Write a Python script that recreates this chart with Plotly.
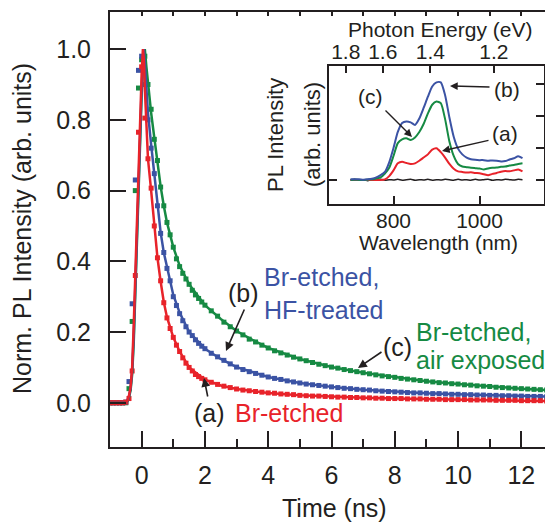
import plotly.graph_objects as go

# ---------------- main panel data (time-resolved PL) ----------------
t_data = [-1.0, -0.9, -0.8, -0.7, -0.6, -0.5, -0.4, -0.3, -0.2, -0.1,
          0.0, 0.1, 0.2, 0.3, 0.4, 0.5, 0.6, 0.7, 0.8, 0.9,
          1.0, 1.1, 1.2, 1.3, 1.4, 1.5, 1.6, 1.7, 1.8, 1.9, 2.0,
          2.2, 2.4, 2.6, 2.8, 3.0, 3.2, 3.4, 3.6, 3.8, 4.0,
          4.2, 4.4, 4.6, 4.8, 5.0, 5.2, 5.4, 5.6, 5.8, 6.0,
          6.2, 6.4, 6.6, 6.8, 7.0, 7.2, 7.4, 7.6, 7.8, 8.0,
          8.2, 8.4, 8.6, 8.8, 9.0, 9.2, 9.4, 9.6, 9.8, 10.0,
          10.2, 10.4, 10.6, 10.8, 11.0, 11.2, 11.4, 11.6, 11.8, 12.0,
          12.2, 12.4, 12.6, 12.8, 13.0]

red_data = [0.0, 0.0, 0.0, 0.0, 0.0, 0.002, 0.012, 0.09, 0.36, 0.765,
            0.95, 0.805, 0.69, 0.607, 0.50, 0.41, 0.345, 0.283, 0.24, 0.21,
            0.185, 0.163, 0.145, 0.127, 0.112, 0.10, 0.09, 0.08, 0.074, 0.069, 0.065,
            0.058, 0.052, 0.047, 0.043, 0.039, 0.036, 0.034, 0.032, 0.030, 0.028,
            0.027, 0.025, 0.024, 0.023, 0.021, 0.020, 0.019, 0.019, 0.018, 0.017,
            0.016, 0.016, 0.015, 0.015, 0.014, 0.014, 0.013, 0.013, 0.012, 0.012,
            0.012, 0.011, 0.011, 0.011, 0.010, 0.010, 0.010, 0.009, 0.009, 0.009,
            0.009, 0.008, 0.008, 0.008, 0.008, 0.007, 0.007, 0.007, 0.007, 0.006,
            0.006, 0.006, 0.006, 0.005, 0.005]

blue_data = [0.0, 0.0, 0.0, 0.0, 0.0, 0.002, 0.06, 0.28, 0.63, 0.94,
             0.98, 0.90, 0.80, 0.72, 0.648, 0.557, 0.479, 0.425, 0.38, 0.345,
             0.30, 0.275, 0.252, 0.232, 0.215, 0.20, 0.19, 0.178, 0.168, 0.16, 0.153,
             0.14, 0.13, 0.12, 0.11, 0.101, 0.094, 0.088, 0.083, 0.078, 0.073,
             0.069, 0.066, 0.062, 0.059, 0.056, 0.053, 0.051, 0.049, 0.047, 0.045,
             0.043, 0.041, 0.040, 0.038, 0.037, 0.036, 0.034, 0.033, 0.032, 0.031,
             0.030, 0.029, 0.028, 0.028, 0.027, 0.026, 0.026, 0.025, 0.024, 0.024,
             0.023, 0.023, 0.022, 0.022, 0.021, 0.021, 0.020, 0.020, 0.019, 0.019,
             0.018, 0.018, 0.018, 0.017, 0.017]

green_data = [0.0, 0.0, 0.0, 0.0, 0.0, 0.0, 0.04, 0.23, 0.60, 0.89,
              0.97, 0.98, 0.90, 0.83, 0.745, 0.685, 0.61, 0.557, 0.51, 0.475,
              0.44, 0.407, 0.385, 0.366, 0.35, 0.335, 0.318, 0.305, 0.295, 0.285, 0.276,
              0.26, 0.245, 0.228, 0.215, 0.203, 0.192, 0.18, 0.172, 0.163, 0.155,
              0.147, 0.141, 0.135, 0.129, 0.124, 0.119, 0.114, 0.109, 0.105, 0.101,
              0.098, 0.094, 0.091, 0.088, 0.085, 0.082, 0.079, 0.076, 0.074, 0.072,
              0.069, 0.067, 0.065, 0.063, 0.061, 0.059, 0.057, 0.056, 0.054, 0.053,
              0.051, 0.050, 0.048, 0.047, 0.046, 0.044, 0.043, 0.042, 0.041, 0.040,
              0.039, 0.038, 0.037, 0.036, 0.035]

t_fit = [-1.0, -0.6, -0.5, -0.45, -0.4, -0.35, -0.3, -0.25, -0.2, -0.15,
         -0.1, -0.05, 0.0, 0.04, 0.07, 0.1, 0.15, 0.2, 0.3, 0.4,
         0.5, 0.6, 0.7, 0.8, 1.0, 1.2, 1.5, 2.0, 2.5, 3.0,
         3.5, 4.0, 5.0, 6.0, 7.0, 8.0, 9.0, 10.0, 11.0, 12.0, 13.0]

red_fit = [0.0, 0.0, 0.0, 0.006, 0.02, 0.045, 0.10, 0.22, 0.37, 0.53,
           0.68, 0.82, 0.93, 1.0, 0.97, 0.89, 0.78, 0.69, 0.60, 0.50,
           0.41, 0.343, 0.285, 0.242, 0.185, 0.145, 0.10, 0.065, 0.049, 0.039,
           0.033, 0.028, 0.021, 0.017, 0.014, 0.012, 0.010, 0.009, 0.008, 0.006, 0.005]

blue_fit = [0.0, 0.0, 0.0, 0.005, 0.018, 0.04, 0.09, 0.19, 0.33, 0.49,
            0.64, 0.78, 0.89, 0.96, 1.0, 0.96, 0.88, 0.82, 0.73, 0.645,
            0.56, 0.482, 0.425, 0.382, 0.305, 0.255, 0.20, 0.153, 0.124, 0.101,
            0.086, 0.073, 0.056, 0.045, 0.037, 0.031, 0.027, 0.024, 0.021, 0.019, 0.017]

green_fit = [0.0, 0.0, 0.0, 0.004, 0.015, 0.035, 0.08, 0.17, 0.31, 0.47,
             0.62, 0.76, 0.87, 0.94, 0.98, 1.0, 0.95, 0.90, 0.82, 0.75,
             0.68, 0.612, 0.557, 0.51, 0.44, 0.388, 0.335, 0.276, 0.237, 0.203,
             0.178, 0.155, 0.124, 0.101, 0.085, 0.072, 0.061, 0.053, 0.046, 0.040, 0.035]

x_ticks = [0, 2, 4, 6, 8, 10, 12]
y_ticks = [0.0, 0.2, 0.4, 0.6, 0.8, 1.0]
y_ticklabels = ["0.0", "0.2", "0.4", "0.6", "0.8", "1.0"]

# ---------------- inset data (PL spectra) ----------------
wl = [700, 710, 720, 730, 740, 750, 760, 770, 780, 790,
      800, 810, 820, 830, 840, 850, 860, 870, 880, 890,
      900, 910, 920, 930, 940, 950, 960, 970, 980, 990,
      1000, 1010, 1020, 1030, 1040, 1050, 1060, 1070, 1080, 1090, 1100]

spec_b = [0.02, 0.02, 0.02, 0.01, 0.02, 0.04, 0.08, 0.15, 0.25, 0.55,
          1.0, 1.5, 1.78, 1.83, 1.8, 1.72, 1.92, 2.25, 2.6, 2.92,
          3.05, 3.05, 2.65, 1.95, 1.35, 0.98, 0.80, 0.70, 0.65, 0.63,
          0.62, 0.62, 0.60, 0.61, 0.60, 0.58, 0.59, 0.64, 0.68, 0.74, 0.68]

spec_c = [0.0, 0.01, 0.0, 0.0, 0.01, 0.02, 0.05, 0.08, 0.20, 0.38,
          0.75, 1.15, 1.27, 1.30, 1.25, 1.33, 1.50, 1.75, 2.08, 2.35,
          2.45, 2.40, 1.90, 1.20, 0.75, 0.50, 0.42, 0.40, 0.38, 0.37,
          0.36, 0.33, 0.36, 0.38, 0.39, 0.41, 0.42, 0.45, 0.47, 0.50, 0.52]

spec_a = [0.0, 0.0, 0.0, 0.0, 0.0, 0.0, 0.0, 0.0, 0.02, 0.12,
          0.30, 0.52, 0.57, 0.53, 0.50, 0.52, 0.60, 0.70, 0.80, 0.95,
          0.99, 0.87, 0.70, 0.50, 0.35, 0.27, 0.25, 0.23, 0.24, 0.22,
          0.21, 0.18, 0.15, 0.19, 0.22, 0.26, 0.28, 0.27, 0.30, 0.33, 0.27]

spec_bg = [0.0, 0.02, -0.01, 0.01, -0.02, 0.01, 0.0, 0.02, -0.01, 0.01,
           0.0, 0.02, -0.01, 0.01, 0.02, -0.01, 0.01, 0.0, 0.02, -0.01,
           0.01, 0.0, 0.02, 0.01, -0.01, 0.02, 0.0, 0.01, -0.01, 0.02,
           0.0, 0.01, 0.02, -0.01, 0.01, 0.0, 0.02, 0.01, 0.0, 0.02, 0.01]

ev_ticks = [1.8, 1.6, 1.4, 1.2]
ev_ticklabels = ["1.8", "1.6", "1.4", "1.2"]
wl_ticks = [800, 1000]

RED = "#E8232A"
BLUE = "#3B53A4"
GREEN = "#168A43"
INK = "#231F20"
FONT = "Liberation Sans, Arial, Helvetica, sans-serif"

# The page body has an 8 px margin; lay the figure out 8 px up/left so the
# visible window matches the reference pixel positions.
OFF = 8
W, H = 553, 524
REF_L, REF_R, REF_T, REF_B = 110, 553, 12, 447   # plot area in window pixels
L = REF_L - OFF
T = REF_T - OFF
R = W - (REF_R - OFF)
B = H - (REF_B - OFF)
PW = REF_R - REF_L
PH = REF_B - REF_T


def px(x):
    return (x - REF_L) / PW


def py(y):
    return (REF_B - y) / PH


fig = go.Figure()

series = [(green_data, green_fit, GREEN),
          (blue_data, blue_fit, BLUE),
          (red_data, red_fit, RED)]
for data, fit, col in series:
    fig.add_trace(go.Scatter(x=t_data, y=data, mode="markers",
                             marker=dict(symbol="square", size=5, color=col),
                             xaxis="x", yaxis="y", hoverinfo="skip"))
for data, fit, col in series:
    fig.add_trace(go.Scatter(x=t_fit, y=fit, mode="lines",
                             line=dict(color=col, width=2.5),
                             xaxis="x", yaxis="y", hoverinfo="skip"))

# invisible helper so the top axis is drawn
fig.add_trace(go.Scatter(x=[5], y=[0.5], mode="markers", marker=dict(opacity=0),
                         xaxis="x2", yaxis="y", hoverinfo="skip"))

# inset spectra
for spec, col, w in [(spec_bg, INK, 1.5), (spec_a, RED, 2), (spec_c, GREEN, 2), (spec_b, BLUE, 2)]:
    fig.add_trace(go.Scatter(x=wl, y=spec, mode="lines",
                             line=dict(color=col, width=w, shape="spline", smoothing=0.6),
                             xaxis="x3", yaxis="y3", hoverinfo="skip"))
fig.add_trace(go.Scatter(x=[900], y=[1], mode="markers", marker=dict(opacity=0),
                         xaxis="x4", yaxis="y3", hoverinfo="skip"))
fig.add_trace(go.Scatter(x=[900], y=[1], mode="markers", marker=dict(opacity=0),
                         xaxis="x3", yaxis="y4", hoverinfo="skip"))

ax_common = dict(showgrid=False, zeroline=False, showline=True, linecolor=INK,
                 linewidth=2, tickcolor=INK, ticks="inside", tickwidth=2)
ax_inset = {**ax_common, "linewidth": 1.5, "tickwidth": 1.5}

inset_dom_x = [px(329), px(544)]
inset_dom_y = [py(204), py(66)]

fig.update_layout(
    width=W, height=H,
    margin=dict(l=L, r=R, t=T, b=B, pad=0),
    paper_bgcolor="white", plot_bgcolor="white",
    showlegend=False,
    font=dict(family=FONT, color=INK, size=25),
    xaxis=dict(**ax_common, range=[-1, 13], tickvals=x_ticks, ticklen=16,
               tickfont=dict(size=25), ticklabelstandoff=5,
               minor=dict(ticks="inside", ticklen=8, dtick=1, tickcolor=INK, tickwidth=2),
               domain=[0, 1], anchor="y"),
    xaxis2=dict(**ax_common, range=[-1, 13], overlaying="x", side="top", dtick=1,
                ticklen=4, showticklabels=False, anchor="y"),
    yaxis=dict(**ax_common, range=[-0.125, 1.105], tickvals=y_ticks, ticktext=y_ticklabels,
               ticklen=16, tickfont=dict(size=25), ticklabelstandoff=12,
               domain=[0, 1], anchor="x"),
    xaxis3=dict(**ax_inset, range=[650, 1150],
                tickvals=wl_ticks, ticklen=8, tickfont=dict(size=21),
                ticklabelstandoff=-3, domain=inset_dom_x, anchor="y3"),
    xaxis4=dict(**ax_inset, range=[650, 1150],
                overlaying="x3", side="top", anchor="y3",
                tickvals=[1240.0 / e for e in ev_ticks], ticktext=ev_ticklabels,
                ticklen=7, tickfont=dict(size=21), ticklabelstandoff=-3),
    yaxis3=dict(**ax_inset, range=[-0.75, 3.56],
                tickvals=[0], ticklen=8, showticklabels=False,
                domain=inset_dom_y, anchor="x3"),
    yaxis4=dict(**ax_inset, range=[-0.75, 3.56],
                overlaying="y3", side="right", anchor="x3",
                tickvals=[0, 1, 2, 3], ticklen=8, showticklabels=False),
)

ann = []


def text(x, y, s, size=25, color=INK, xanchor="center", angle=0):
    ann.append(dict(x=px(x), y=py(y), xref="paper", yref="paper", text=s,
                    showarrow=False, xanchor=xanchor, yanchor="middle",
                    textangle=angle, font=dict(size=size, color=color, family=FONT)))


def arrow(tx, ty, hx, hy, width=1.6):
    ann.append(dict(x=px(hx), y=py(hy), xref="paper", yref="paper", text="",
                    showarrow=True, ax=tx - hx, ay=ty - hy, axref="pixel", ayref="pixel",
                    arrowhead=2, arrowsize=1.1, arrowwidth=width, arrowcolor=INK,
                    standoff=0, startstandoff=0))


# axis titles
text(22, 229, "Norm. PL Intensity (arb. units)", size=25, angle=-90)
text(334, 508, "Time (ns)", size=25)

# main labels
text(209, 413, "(a)")
text(233, 413, "Br-etched", color=RED, xanchor="left")
arrow(208, 398, 204, 378)
text(243, 293, "(b)")
text(262, 277, "Br-etched,", color=BLUE, xanchor="left")
text(262, 310, "HF-treated", color=BLUE, xanchor="left")
arrow(245, 308, 226, 351)
text(397, 347, "(c)")
text(414, 332, "Br-etched,", color=GREEN, xanchor="left")
text(414, 360, "air exposed", color=GREEN, xanchor="left")
arrow(383, 351, 358, 368)

# inset titles
text(440, 29, "Photon Energy (eV)", size=21)
text(438, 242, "Wavelength (nm)", size=21)
text(275, 135, "PL Intensity", size=22, angle=-90)
text(312, 135, "(arb. units)", size=22, angle=-90)

# inset labels
text(507, 89, "(b)", size=21)
arrow(491, 87, 450, 86, 1.4)
text(370, 97, "(c)", size=21)
arrow(384, 109, 412, 137, 1.4)
text(505, 134, "(a)", size=21)
arrow(490, 140, 442, 151, 1.4)

fig.update_layout(annotations=ann)

fig.write_html("out.html")
